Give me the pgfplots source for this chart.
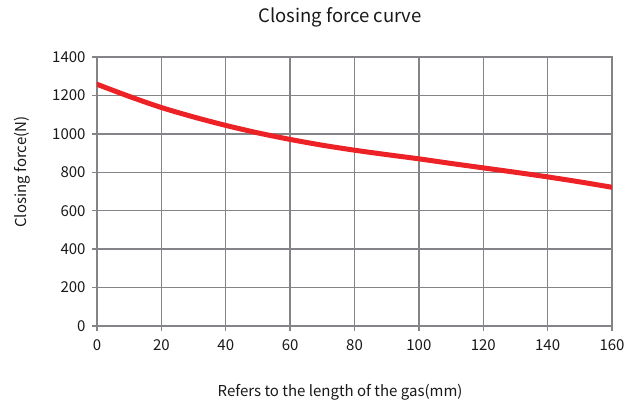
\documentclass[border=0pt]{standalone}
\usepackage{fontspec}
\setmainfont{Noto Sans CJK SC}
\usepackage{pgfplots}
\pgfplotsset{compat=1.18}
\definecolor{gridgray}{RGB}{132,132,136}
\definecolor{curvered}{RGB}{236,34,39}
\definecolor{txt}{RGB}{25,25,25}
\begin{document}
\begin{tikzpicture}
\useasboundingbox (-97bp,-77bp) rectangle (545bp,326bp);
\begin{axis}[
  at={(0,0)}, anchor=south west,
  scale only axis,
  width=515bp, height=269bp,
  xmin=0, xmax=160, ymin=0, ymax=1400,
  xtick={0,20,...,160},
  ytick={0,200,...,1400},
  grid=major,
  major grid style={gridgray, line width=1.4bp},
  axis line style={gridgray, line width=1.4bp},
  tick style={gridgray, line width=1.4bp},
  tick align=outside,
  major tick length=5bp,
  xtick pos=bottom, ytick pos=left,
  /pgf/number format/assume math mode=true,
  /pgf/number format/1000 sep={},
  tick label style={font=\fontsize{15bp}{17bp}\selectfont, text=txt},
  xticklabel style={yshift=-5bp},
  yticklabel style={xshift=-3bp},
  every axis title shift=0pt,
  title={Closing force curve},
  title style={at={(axis description cs:0.472,1.148)}, anchor=center,
    font=\fontsize{18.5bp}{20bp}\selectfont, text=txt},
  xlabel={Refers to the length of the gas(mm)},
  xlabel style={at={(axis description cs:0.472,-0.245)}, anchor=center,
    font=\fontsize{15bp}{17bp}\selectfont, text=txt},
  ylabel={Closing force(N)},
  ylabel style={at={(axis description cs:-0.1456,0.572)}, anchor=center,
    font=\fontsize{15bp}{17bp}\selectfont, text=txt},
]
\addplot[curvered, line width=5bp, smooth, line cap=round] coordinates {
  (0,1258) (10,1195) (20,1137) (30,1088) (40,1044) (50,1005)
  (60,971) (70,941) (80,915) (90,892) (100,870) (110,846)
  (120,823) (130,800) (140,776) (150,750) (160,722)
};
\end{axis}
\end{tikzpicture}
\end{document}
